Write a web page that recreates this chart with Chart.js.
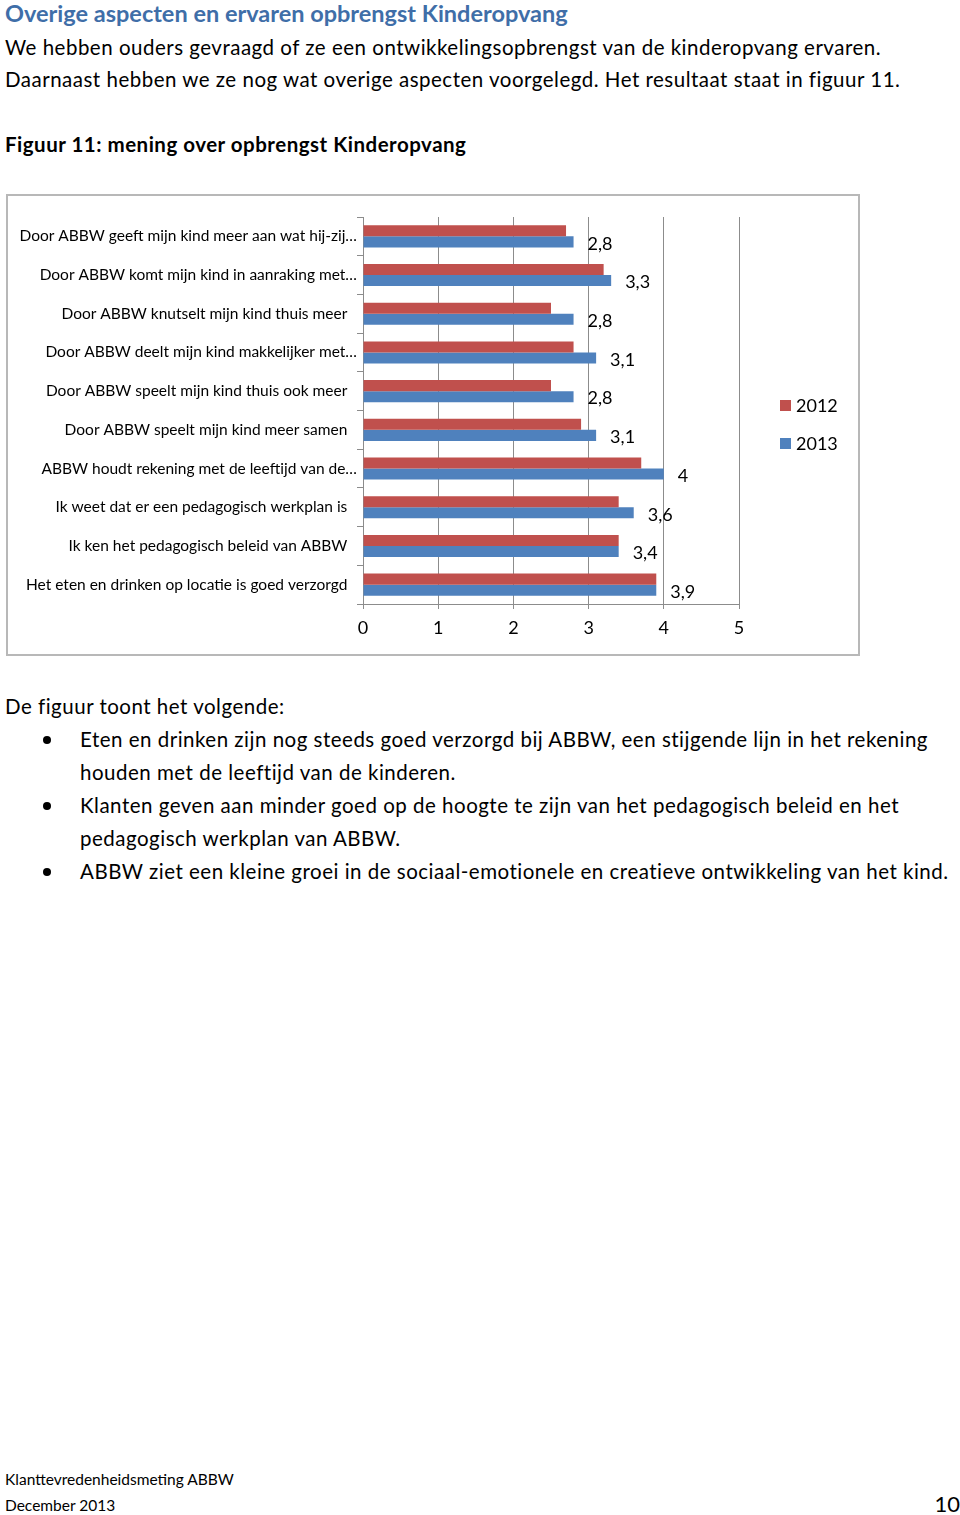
<!DOCTYPE html>
<html lang="nl">
<head>
<meta charset="UTF-8">
<title>Figuur 11: mening over opbrengst Kinderopvang</title>
<script src="https://cdn.jsdelivr.net/npm/chart.js"></script>
<style>
  body { margin: 0; width: 960px; height: 1515px; position: relative; background: #fff; font-family: Lato, "Open Sans", sans-serif; color: #000; }
  .t { position: absolute; white-space: nowrap; }
  #kop { left: 5px; top: 0px; font-size: 23.5px; font-weight: bold; color: #3f6ea8; line-height: 26px; }
  #intro { left: 5px; top: 31px; font-size: 20.5px; letter-spacing: 0.5px; line-height: 32px; }
  #fig { left: 5px; top: 131px; font-size: 20.5px; letter-spacing: 0.5px; font-weight: bold; line-height: 26px; }
  #box { position: absolute; left: 6px; top: 194px; width: 850px; height: 458px; border: 2px solid #b8b8b8; }
  #box canvas { display: block; }
  #tekst { left: 5px; top: 690px; font-size: 20.5px; letter-spacing: 0.5px; line-height: 33px; }
  #tekst ul { margin: 0; padding-left: 75px; list-style: none; }
  #tekst li { position: relative; }
  #tekst li::before { content: ''; position: absolute; left: -37px; top: 13px; width: 8px; height: 8px; border-radius: 50%; background: #000; }
  #voet1 { left: 5px; top: 1470px; font-size: 15.5px; }
  #voet2 { left: 5px; top: 1496px; font-size: 15.5px; }
  #pag { right: 0px; top: 1490px; font-size: 22px; }
</style>
</head>
<body>
<div class="t" id="kop">Overige aspecten en ervaren opbrengst Kinderopvang</div>
<div class="t" id="intro">We hebben ouders gevraagd of ze een ontwikkelingsopbrengst van de kinderopvang ervaren.<br>Daarnaast hebben we ze nog wat overige aspecten voorgelegd. Het resultaat staat in figuur 11.</div>
<div class="t" id="fig">Figuur 11: mening over opbrengst Kinderopvang</div>

<div id="box"><canvas id="opbrengstChart" width="850" height="458"></canvas></div>

<div class="t" id="tekst">De figuur toont het volgende:
  <ul>
    <li>Eten en drinken zijn nog steeds goed verzorgd bij ABBW, een stijgende lijn in het rekening<br>houden met de leeftijd van de kinderen.</li>
    <li>Klanten geven aan minder goed op de hoogte te zijn van het pedagogisch beleid en het<br>pedagogisch werkplan van ABBW.</li>
    <li>ABBW ziet een kleine groei in de sociaal-emotionele en creatieve ontwikkeling van het kind.</li>
  </ul>
</div>

<div class="t" id="voet1">Klanttevredenheidsmeting ABBW</div>
<div class="t" id="voet2">December 2013</div>
<div class="t" id="pag">10</div>

<script>
  // categorieen zoals in de figuur (afgekapte labels inbegrepen)
  const categories = [
    'Door ABBW geeft mijn kind meer aan wat hij-zij…',
    'Door ABBW komt mijn kind in aanraking met…',
    'Door ABBW knutselt mijn kind thuis meer',
    'Door ABBW deelt mijn kind makkelijker met…',
    'Door ABBW speelt mijn kind thuis ook meer',
    'Door ABBW speelt mijn kind meer samen',
    'ABBW houdt rekening met de leeftijd van de…',
    'Ik weet dat er een pedagogisch werkplan is',
    'Ik ken het pedagogisch beleid van ABBW',
    'Het eten en drinken op locatie is goed verzorgd'
  ];
  const scores2012 = [2.7, 3.2, 2.5, 2.8, 2.5, 2.9, 3.7, 3.4, 3.4, 3.9];
  const scores2013 = [2.8, 3.3, 2.8, 3.1, 2.8, 3.1, 4.0, 3.6, 3.4, 3.9];
  const seriesNames = ['2012', '2013'];
  const xTicks = [0, 1, 2, 3, 4, 5];

  const font = 'Lato, "Open Sans", sans-serif';

  // waardelabels alleen voor 2013, zoals in het origineel
  const valueLabels = {
    id: 'valueLabels',
    afterDatasetsDraw(chart) {
      const ctx = chart.ctx;
      const meta = chart.getDatasetMeta(1);
      ctx.save();
      ctx.font = '18px ' + font;
      ctx.fillStyle = '#000';
      ctx.textAlign = 'left';
      ctx.textBaseline = 'middle';
      meta.data.forEach((bar, i) => {
        const txt = String(chart.data.datasets[1].data[i]).replace('.', ',');
        ctx.fillText(txt, bar.x + 14, bar.y + 2);
      });
      ctx.restore();
    }
  };

  // legenda rechts van de grafiek
  const sideLegend = {
    id: 'sideLegend',
    afterDraw(chart) {
      const ctx = chart.ctx;
      ctx.save();
      ctx.font = '18px ' + font;
      ctx.textBaseline = 'middle';
      chart.data.datasets.forEach((ds, i) => {
        const y = 209 + i * 38;
        ctx.fillStyle = ds.backgroundColor;
        ctx.fillRect(772, y - 5, 11, 11);
        ctx.fillStyle = '#000';
        ctx.fillText(ds.label, 788, y + 1);
      });
      ctx.restore();
    }
  };

  const ctx = document.getElementById('opbrengstChart').getContext('2d');
  new Chart(ctx, {
    type: 'bar',
    data: {
      labels: categories,
      datasets: [
        { label: seriesNames[0], data: scores2012, backgroundColor: '#c0504d', categoryPercentage: 0.57, barPercentage: 1 },
        { label: seriesNames[1], data: scores2013, backgroundColor: '#4f81bd', categoryPercentage: 0.57, barPercentage: 1 }
      ]
    },
    options: {
      indexAxis: 'y',
      responsive: false,
      animation: false,
      layout: { padding: { top: 21, right: 119, left: 0, bottom: 10 } },
      plugins: { legend: { display: false }, tooltip: { enabled: false } },
      scales: {
        x: {
          min: 0, max: 5,
          afterBuildTicks: s => { s.ticks = xTicks.map(v => ({ value: v })); },
          afterFit: s => { s.height = 40; },
          grid: { color: '#8c8c8c', lineWidth: 1, tickLength: 5 },
          border: { color: '#8c8c8c' },
          ticks: { color: '#000', font: { family: font, size: 18 }, padding: 8 }
        },
        y: {
          afterFit: s => { s.width = 355; },
          grid: { drawOnChartArea: false, color: '#8c8c8c', tickLength: 6, offset: true },
          border: { color: '#8c8c8c' },
          ticks: {
            color: '#000', font: { family: font, size: 15.5 }, padding: 0, autoSkip: false,
            // volledige labels eindigen iets eerder dan de afgekapte, zoals in Excel
            callback: function (v) {
              const l = this.getLabelForValue(v);
              return l.endsWith('…') ? l : l + '\u2002\u2009';
            }
          }
        }
      }
    },
    plugins: [valueLabels, sideLegend]
  });
</script>
</body>
</html>
